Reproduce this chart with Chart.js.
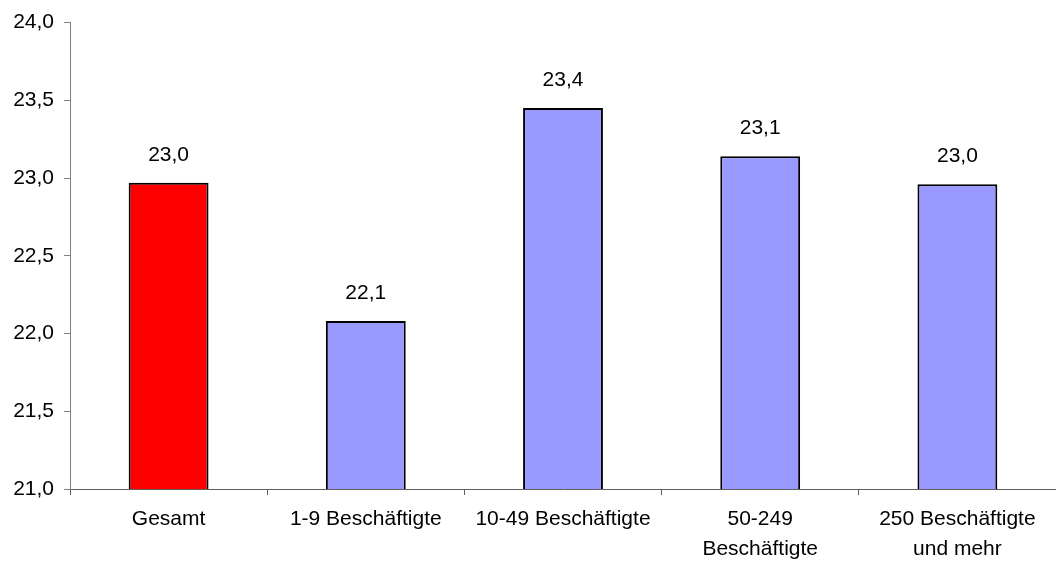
<!DOCTYPE html>
<html>
<head>
<meta charset="utf-8">
<script src="https://cdn.jsdelivr.net/npm/chart.js@4"></script>
<style>
  html, body { margin: 0; padding: 0; background: #fff; }
  #wrap { width: 1056px; height: 563px; }
</style>
</head>
<body>
<div id="wrap"><canvas id="chart" width="1056" height="563"></canvas></div>
<script>
// Werte
const categories = ['Gesamt', '1-9 Beschäftigte', '10-49 Beschäftigte', ['50-249', 'Beschäftigte'], ['250 Beschäftigte', 'und mehr']];
const values = [22.97, 22.08, 23.45, 23.14, 22.96];
const barColors = ['#FF0000', '#9999FF', '#9999FF', '#9999FF', '#9999FF'];
const yTicks = [21.0, 21.5, 22.0, 22.5, 23.0, 23.5, 24.0];

const fmt = v => v.toFixed(1).replace('.', ',');
const FONT = '"Liberation Sans", Arial, sans-serif';

// Beschriftung über den Balken
const valueLabels = {
  id: 'valueLabels',
  afterDatasetsDraw(chart) {
    const ctx = chart.ctx;
    ctx.save();
    ctx.font = '21px ' + FONT;
    ctx.fillStyle = '#000';
    ctx.textAlign = 'center';
    ctx.textBaseline = 'middle';
    chart.getDatasetMeta(0).data.forEach((bar, i) => {
      ctx.fillText(fmt(values[i]), bar.x, bar.y - 28);
    });
    ctx.restore();
  }
};

new Chart(document.getElementById('chart'), {
  type: 'bar',
  data: {
    labels: categories,
    datasets: [{
      data: values,
      backgroundColor: barColors,
      borderColor: '#000',
      borderWidth: 2,
      borderSkipped: 'bottom',
      categoryPercentage: 0.405,
      barPercentage: 1
    }]
  },
  options: {
    responsive: false,
    animation: false,
    layout: { padding: { top: 21, right: 0, left: 0, bottom: 0 } },
    plugins: { legend: { display: false }, tooltip: { enabled: false } },
    scales: {
      x: {
        grid: { drawOnChartArea: false, tickLength: 6, color: '#606060', offset: true },
        border: { color: '#606060', width: 1 },
        ticks: {
          color: '#000',
          padding: 9,
          maxRotation: 0,
          autoSkip: false,
          font: { family: FONT, size: 21, lineHeight: 1.43 }
        },
        afterFit(scale) { scale.height = 74; }
      },
      y: {
        min: 21,
        max: 24,
        afterBuildTicks(scale) { scale.ticks = yTicks.map(v => ({ value: v })); },
        grid: { drawOnChartArea: false, tickLength: 6, color: '#808080' },
        border: { color: '#808080', width: 1 },
        ticks: {
          color: '#000',
          padding: 10,
          callback: v => fmt(v),
          font: { family: FONT, size: 21 }
        },
        afterFit(scale) { scale.width = 70; }
      }
    }
  },
  plugins: [valueLabels]
});
</script>
</body>
</html>
